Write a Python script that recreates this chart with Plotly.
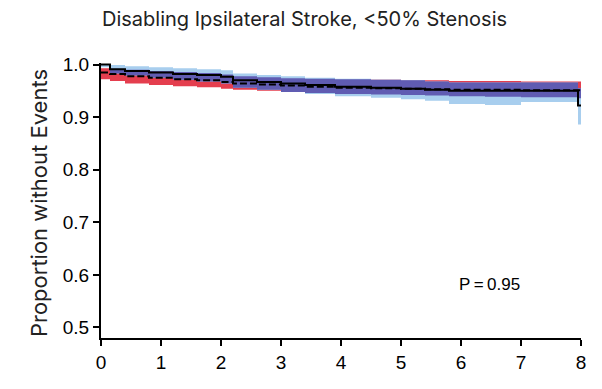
import numpy as np
import plotly.graph_objects as go

# Time points (years) shared by both groups
years = [0, 0.15, 0.4, 0.8, 1.2, 1.6, 2.0, 2.2, 2.6, 3.0, 3.4, 3.9, 4.5, 5.0, 5.4, 5.8, 6.4, 7.0, 7.5, 7.95, 8.0]

# Group 1 (dashed line, red band)
dashed_est = [0.985, 0.982, 0.978, 0.975, 0.972, 0.970, 0.967, 0.964, 0.962, 0.960, 0.958, 0.956, 0.955, 0.954, 0.953, 0.952, 0.952, 0.951, 0.951, 0.951, 0.951]
red_lo = [0.972, 0.969, 0.964, 0.961, 0.959, 0.957, 0.954, 0.952, 0.950, 0.948, 0.946, 0.944, 0.943, 0.942, 0.941, 0.940, 0.939, 0.938, 0.938, 0.936, 0.936]
red_hi = [0.993, 0.992, 0.990, 0.988, 0.986, 0.984, 0.981, 0.978, 0.976, 0.974, 0.973, 0.972, 0.971, 0.970, 0.970, 0.969, 0.969, 0.968, 0.968, 0.968, 0.968]

# Group 2 (solid line, light blue band)
solid_est = [1.0, 0.991, 0.988, 0.985, 0.982, 0.980, 0.977, 0.970, 0.967, 0.964, 0.961, 0.958, 0.956, 0.954, 0.952, 0.950, 0.950, 0.950, 0.950, 0.922, 0.922]
blue_lo = [0.995, 0.983, 0.979, 0.975, 0.971, 0.968, 0.964, 0.956, 0.952, 0.948, 0.944, 0.940, 0.937, 0.934, 0.931, 0.925, 0.923, 0.929, 0.929, 0.886, 0.886]
blue_hi = [1.0, 0.999, 0.997, 0.995, 0.993, 0.991, 0.989, 0.983, 0.980, 0.978, 0.975, 0.973, 0.971, 0.970, 0.968, 0.966, 0.966, 0.966, 0.966, 0.955, 0.955]

p_label = "P\u2009=\u20090.95"

RED = "rgb(228,62,78)"
LIGHTBLUE = "rgb(168,206,238)"
PURPLE = "rgb(96,92,178)"

# Overlap of the two bands
over_lo = np.maximum(red_lo, blue_lo)
over_hi = np.maximum(np.minimum(red_hi, blue_hi), over_lo)

fig = go.Figure()


def add_band(lo, hi, color):
    fig.add_trace(go.Scatter(x=years, y=lo, mode="lines", line=dict(width=0, shape="hv"),
                             showlegend=False, hoverinfo="skip"))
    fig.add_trace(go.Scatter(x=years, y=hi, mode="lines", line=dict(width=0, shape="hv"),
                             fill="tonexty", fillcolor=color, showlegend=False, hoverinfo="skip"))


add_band(red_lo, red_hi, RED)
add_band(blue_lo, blue_hi, LIGHTBLUE)
add_band(over_lo, over_hi, PURPLE)

fig.add_trace(go.Scatter(x=years, y=dashed_est, mode="lines",
                         line=dict(color="black", width=2, dash="7px,3px", shape="hv"),
                         showlegend=False))
fig.add_trace(go.Scatter(x=years, y=solid_est, mode="lines",
                         line=dict(color="black", width=2, shape="hv"),
                         showlegend=False))

fig.add_annotation(x=6.47, y=0.582, text=p_label, showarrow=False,
                   font=dict(size=17, color="black"))

fig.add_annotation(x=-78 / 485, y=0.49, xref="paper", yref="paper",
                   text="Proportion without Events", textangle=-90, showarrow=False,
                   font=dict(family="Inter, Liberation Sans, sans-serif", size=22, color="#222"))

# page body has an 8px margin, so the figure is sized to fit inside it
fig.update_layout(
    width=586, height=373,
    margin=dict(l=93, r=8, t=55, b=25),
    paper_bgcolor="white", plot_bgcolor="white",
    font=dict(family="Liberation Sans, Arial, sans-serif", color="black"),
    title=dict(text="Disabling Ipsilateral Stroke, <50% Stenosis",
               x=94 / 586, xanchor="left", y=1 - 11 / 373, yanchor="middle",
               font=dict(family="Inter, Liberation Sans, sans-serif", size=20, color="#222")),
    xaxis=dict(range=[0, 8], tickvals=[0, 1, 2, 3, 4, 5, 6, 7, 8],
               showgrid=False, zeroline=False, showline=True, linecolor="black", linewidth=2,
               ticks="outside", ticklen=6, tickwidth=2, tickcolor="black",
               tickfont=dict(size=19)),
    yaxis=dict(range=[0.48, 1.003], tickvals=[0.5, 0.6, 0.7, 0.8, 0.9, 1.0],
               ticktext=["0.5", "0.6", "0.7", "0.8", "0.9", "1.0"],
               showgrid=False, zeroline=False, showline=True, linecolor="black", linewidth=2,
               ticks="outside", ticklen=6, tickwidth=2, tickcolor="black",
               tickfont=dict(size=19)),
)

fig.write_html("out.html")
